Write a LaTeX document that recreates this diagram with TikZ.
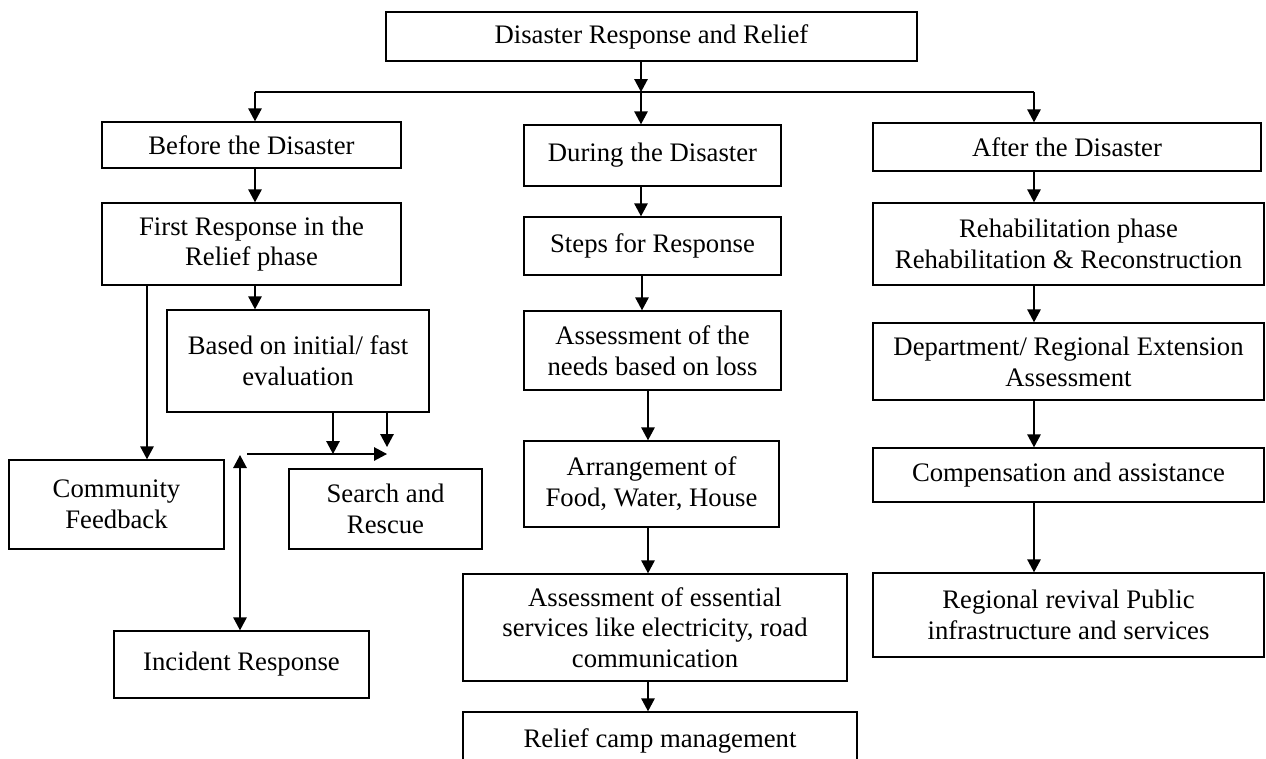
\documentclass[tikz,border=0pt]{standalone}
\usepackage{fontspec}
\setmainfont{Liberation Serif}
\usetikzlibrary{arrows.meta,positioning}
\tikzset{
  box/.style={draw=black, line width=0.8pt, fill=white, align=center, inner sep=2pt, font=\fontsize{15.2}{17.5}\selectfont},
  arrow/.style={-{Triangle[length=2.6mm,width=2.7mm]}, line width=0.8pt, draw=black},
  dblarrow/.style={{Triangle[length=2.6mm,width=2.7mm]}-{Triangle[length=2.6mm,width=2.7mm]}, line width=0.8pt, draw=black},
  plain/.style={line width=0.8pt, draw=black}
}
\begin{document}
\begin{tikzpicture}[x=0.02cm, y=-0.02cm]
\useasboundingbox (0,0) rectangle (1266,758);
% top
\node[box, minimum width=106.2mm, minimum height=9.8mm] (top) at (651.5,36.5) {Disaster Response and Relief};
% before the disaster
\node[box, minimum width=59.8mm, minimum height=9.2mm] (before) at (251.5,145) {Before the Disaster};
\node[box, minimum width=59.8mm, minimum height=16.4mm] (first) at (251.5,244) {First Response in the\\Relief phase};
\node[box, minimum width=52.4mm, minimum height=20.4mm] (based) at (298,361) {Based on initial/ fast\\evaluation};
\node[box, minimum width=43mm, minimum height=17.8mm] (community) at (116.5,504.5) {Community\\Feedback};
\node[box, minimum width=38.6mm, minimum height=16mm] (search) at (385.5,509) {Search and\\Rescue};
\node[box, minimum width=51mm, minimum height=13.4mm] (incident) at (241.5,664.5) {Incident Response};
% during the disaster
\node[box, minimum width=51.4mm, minimum height=12.2mm] (during) at (652.5,155.5) {During the Disaster};
\node[box, minimum width=51.4mm, minimum height=11.6mm] (steps) at (652.5,246) {Steps for Response};
\node[box, minimum width=51.4mm, minimum height=15.8mm] (assess) at (652.5,350.5) {Assessment of the\\needs based on loss};
\node[box, minimum width=51mm, minimum height=17.2mm] (arrange) at (651.5,484) {Arrangement of\\Food, Water, House};
\node[box, minimum width=76.8mm, minimum height=21.4mm] (essential) at (655,627.5) {Assessment of essential\\services like electricity, road\\communication};
\node[box, minimum width=78.8mm, minimum height=11.6mm] (camp) at (660,741) {Relief camp management};
% after the disaster
\node[box, minimum width=77.6mm, minimum height=9.6mm] (after) at (1067,147) {After the Disaster};
\node[box, minimum width=78.2mm, minimum height=16.4mm] (rehab) at (1068.5,244) {Rehabilitation phase\\Rehabilitation \& Reconstruction};
\node[box, minimum width=78.2mm, minimum height=15.4mm] (dept) at (1068.5,361.5) {Department/ Regional Extension\\Assessment};
\node[box, minimum width=78.2mm, minimum height=10.8mm] (comp) at (1068.5,475) {Compensation and assistance};
\node[box, minimum width=78.2mm, minimum height=16.8mm] (regional) at (1068.5,615) {Regional revival Public\\infrastructure and services};
% branch points
\coordinate (bus) at (641,92);
\coordinate (busl) at (255,92);
\coordinate (busr) at (1034,92);
\coordinate (fb) at (147,0);
\coordinate (sr1) at (333,454);
\coordinate (sr2) at (387,447);
\coordinate (h1) at (247,454);
\coordinate (h2) at (387,454);
\coordinate (ir) at (240,455);
% connectors
\draw[arrow] (top.south -| bus) -- (bus);
\draw[plain] (busl) -- (busr);
\draw[arrow] (busl) -- (before.north -| busl);
\draw[arrow] (bus) -- (during.north -| bus);
\draw[arrow] (busr) -- (after.north -| busr);
\draw[arrow] (before.south -| busl) -- (first.north -| busl);
\draw[arrow] (first.south -| busl) -- (based.north -| busl);
\draw[arrow] (first.south -| fb) -- (community.north -| fb);
\draw[arrow] (based.south -| sr1) -- (sr1);
\draw[arrow] (based.south -| sr2) -- (sr2);
\draw[arrow] (h1) -- (h2);
\draw[dblarrow] (ir) -- (incident.north -| ir);
\draw[arrow] (during.south -| bus) -- (steps.north -| bus);
\draw[arrow] ([xshift=0.2mm]steps.south -| bus) -- ([xshift=0.2mm]assess.north -| bus);
\draw[arrow] ([xshift=1.4mm]assess.south -| bus) -- ([xshift=1.4mm]arrange.north -| bus);
\draw[arrow] ([xshift=1.4mm]arrange.south -| bus) -- ([xshift=1.4mm]essential.north -| bus);
\draw[arrow] ([xshift=1.4mm]essential.south -| bus) -- ([xshift=1.4mm]camp.north -| bus);
\draw[arrow] (after.south -| busr) -- (rehab.north -| busr);
\draw[arrow] (rehab.south -| busr) -- (dept.north -| busr);
\draw[arrow] (dept.south -| busr) -- (comp.north -| busr);
\draw[arrow] (comp.south -| busr) -- (regional.north -| busr);
\end{tikzpicture}
\end{document}
